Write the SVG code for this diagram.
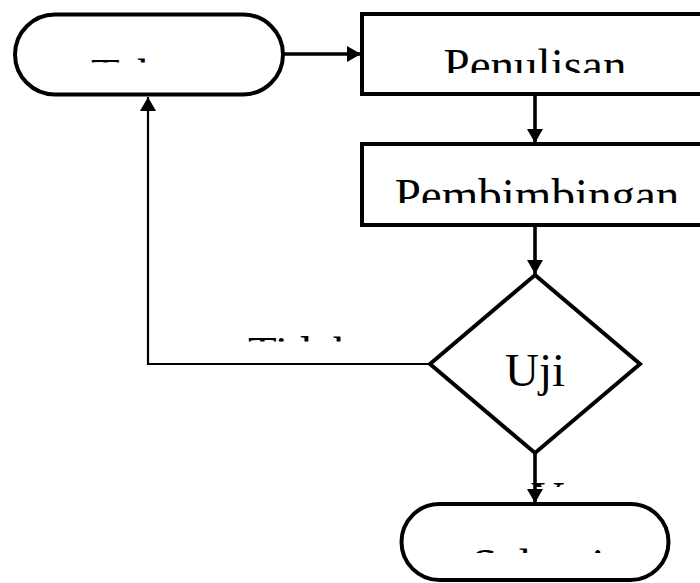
<svg xmlns="http://www.w3.org/2000/svg" width="700" height="583" viewBox="0 0 700 583">
  <style>
    .shape { fill: #fff; stroke: #000; stroke-width: 4; }
    .flow { fill: none; stroke: #000; stroke-width: 3.6; }
    .back { fill: none; stroke: #000; stroke-width: 2.2; }
    .lbl { font-family: "Liberation Serif", "Times New Roman", serif; font-size: 47px; fill: #000; text-anchor: middle; }
  </style>
  <defs>
    <marker id="arrow" markerWidth="16" markerHeight="16" refX="14" refY="8" orient="auto" markerUnits="userSpaceOnUse">
      <path d="M0,0 L14,8 L0,16 Z" fill="#000"/>
    </marker>
    <!-- text boxes that cut their labels short -->
    <clipPath id="clipStart"><rect x="15" y="13" width="270" height="49.5"/></clipPath>
    <clipPath id="clipWrite"><rect x="362" y="14" width="340" height="59"/></clipPath>
    <clipPath id="clipGuide"><rect x="362" y="144" width="340" height="59"/></clipPath>
    <clipPath id="clipNo"><rect x="230" y="320" width="150" height="21.5"/></clipPath>
    <clipPath id="clipYes"><rect x="530" y="470" width="60" height="17"/></clipPath>
    <clipPath id="clipEnd"><rect x="401" y="504" width="268" height="49"/></clipPath>
  </defs>

  <g id="connectors">
    <line class="flow" x1="283" y1="54" x2="361" y2="54" marker-end="url(#arrow)"/>
    <line class="flow" x1="535" y1="94" x2="535" y2="143" marker-end="url(#arrow)"/>
    <line class="flow" x1="535" y1="225" x2="535" y2="274" marker-end="url(#arrow)"/>
    <polyline class="back" points="430,364 148,364 148,97" marker-end="url(#arrow)"/>
    <line class="flow" x1="535" y1="453" x2="535" y2="503" marker-end="url(#arrow)"/>
  </g>

  <g id="node-start">
    <rect class="shape" x="15" y="14.5" width="268" height="80" rx="40" ry="40"/>
    <text class="lbl" x="148" y="91" clip-path="url(#clipStart)">Tahap</text>
  </g>

  <g id="node-penulisan">
    <rect class="shape" x="362" y="14" width="346" height="80"/>
    <text class="lbl" x="535" y="81" clip-path="url(#clipWrite)">Penulisan</text>
  </g>

  <g id="node-pembimbingan">
    <rect class="shape" x="362" y="144" width="346" height="81"/>
    <text class="lbl" x="537" y="211" clip-path="url(#clipGuide)">Pembimbingan</text>
  </g>

  <g id="node-uji">
    <polygon class="shape" points="535,275 640,364 535,453 430,364"/>
    <text class="lbl" x="535" y="386">Uji</text>
  </g>

  <g id="label-tidak">
    <text class="lbl" x="302" y="369" clip-path="url(#clipNo)">Tidak</text>
  </g>

  <g id="label-ya">
    <text class="lbl" x="556" y="514" clip-path="url(#clipYes)">Ya</text>
  </g>

  <g id="node-selesai">
    <rect class="shape" x="401.5" y="504" width="267" height="76" rx="38" ry="38"/>
    <text class="lbl" x="538" y="581" clip-path="url(#clipEnd)">Selesai</text>
  </g>
</svg>
